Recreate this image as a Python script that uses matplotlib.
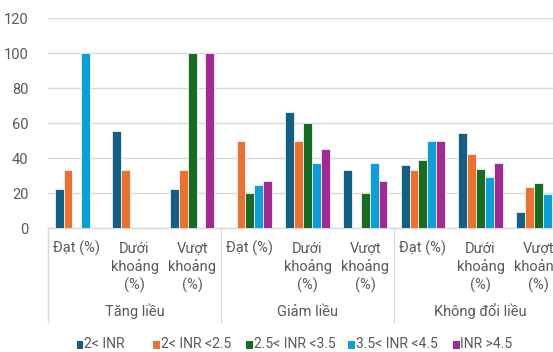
import matplotlib
matplotlib.use("Agg")
import matplotlib.pyplot as plt
from matplotlib import font_manager
from matplotlib.transforms import blended_transform_factory
from matplotlib.lines import Line2D
from matplotlib.patches import Rectangle
import numpy as np

# ---- data -------------------------------------------------------------
groups = ["Tăng liều", "Giảm liều", "Không đổi liều"]
subcats = ["Đạt (%)", "Dưới\nkhoảng\n(%)", "Vượt\nkhoảng\n(%)"]
series_names = ["2< INR", "2< INR <2.5", "2.5< INR <3.5", "3.5< INR <4.5", "INR >4.5"]

inr_lt2 = [22.2, 55.6, 22.2, 0, 66.7, 33.3, 36.1, 54.2, 9.1]
inr_2_25 = [33.3, 33.3, 33.3, 50, 50, 0, 33.3, 42.4, 23.6]
inr_25_35 = [0, 0, 100, 20, 60, 20, 38.9, 34.1, 25.9]
inr_35_45 = [100, 0, 0, 25, 37.5, 37.5, 50, 29.5, 19.8]
inr_gt45 = [0, 0, 100, 27.3, 45.5, 27.3, 50, 37.1, 12.4]

yticks = [0, 20, 40, 60, 80, 100, 120]

colors = ["#156082", "#E97132", "#196B24", "#0F9ED5", "#A02B93"]
text_color = "#595959"
grid_color = "#D9D9D9"

# ---- fonts ------------------------------------------------------------
available = {f.name for f in font_manager.fontManager.ttflist}
primary = next((f for f in ["Liberation Sans Narrow", "Roboto", "Open Sans"]
                if f in available), "DejaVu Sans")
plt.rcParams["font.family"] = [primary, "DejaVu Sans"]
FS = 10.5
LEG_FS = 10

W, H = 553, 352
fig = plt.figure(figsize=(W / 100, H / 100), dpi=100)

def fx(px):
    return px / W

def fy(py):
    return 1 - py / H

ax_left, ax_right = 48, 48 + 9 * 57.67
ax_top, ax_bottom = 18.3, 228.3
ax = fig.add_axes([fx(ax_left), fy(ax_bottom), (ax_right - ax_left) / W,
                   (ax_bottom - ax_top) / H])

all_series = [inr_lt2, inr_2_25, inr_25_35, inr_35_45, inr_gt45]
n_cat = len(groups) * len(subcats)
x = np.arange(n_cat)
pitch = 0.154
for i, (vals, c, name) in enumerate(zip(all_series, colors, series_names)):
    ax.bar(x + (i - 2) * pitch, vals, width=pitch, color=c,
           edgecolor="white", linewidth=0.5, label=name, zorder=3)

ax.set_xlim(-0.5, n_cat - 0.5)
ax.set_ylim(0, 120)
ax.set_yticks(yticks)
ax.set_yticklabels([str(t) for t in yticks])
ax.tick_params(axis="y", length=0, pad=14, labelsize=FS, colors=text_color)
ax.set_xticks([])
ax.grid(axis="y", color=grid_color, linewidth=1, zorder=0)
for s in ["top", "right", "left"]:
    ax.spines[s].set_visible(False)
ax.spines["bottom"].set_color(grid_color)
ax.spines["bottom"].set_linewidth(1)

# ---- multi-level category axis ----------------------------------------
tr = blended_transform_factory(ax.transData, fig.transFigure)
baselines = [253.0, 271.3, 289.6]
for k in range(n_cat):
    lines = subcats[k % len(subcats)].split("\n")
    for j, ln in enumerate(lines):
        ax.text(k, fy(baselines[j]), ln, transform=tr, ha="center",
                va="baseline", fontsize=FS, color=text_color, clip_on=False)

for g, name in enumerate(groups):
    center = g * len(subcats) + 1
    ax.text(center, fy(316), name, transform=tr, ha="center", va="baseline",
            fontsize=FS, color=text_color, clip_on=False)

for b in range(len(groups) + 1):
    xb = b * len(subcats) - 0.5
    ln = Line2D([xb, xb], [fy(ax_bottom), fy(322)], transform=tr,
                color=grid_color, linewidth=1, clip_on=False)
    ax.add_line(ln)

# ---- legend (row of swatches and labels under the chart) ---------------
swatch_left = [76.7, 153.3, 246.0, 348.0, 453.0]
sw, sh = 6.5, 7.5
for left, c, name in zip(swatch_left, colors, series_names):
    fig.patches.append(Rectangle((fx(left), fy(348.5)), sw / W, sh / H,
                                 transform=fig.transFigure, facecolor=c,
                                 edgecolor="none"))
    fig.text(fx(left + sw + 1), fy(348.5), name, ha="left", va="baseline",
             fontsize=LEG_FS, color=text_color)

fig.savefig("out.png", dpi=100)
